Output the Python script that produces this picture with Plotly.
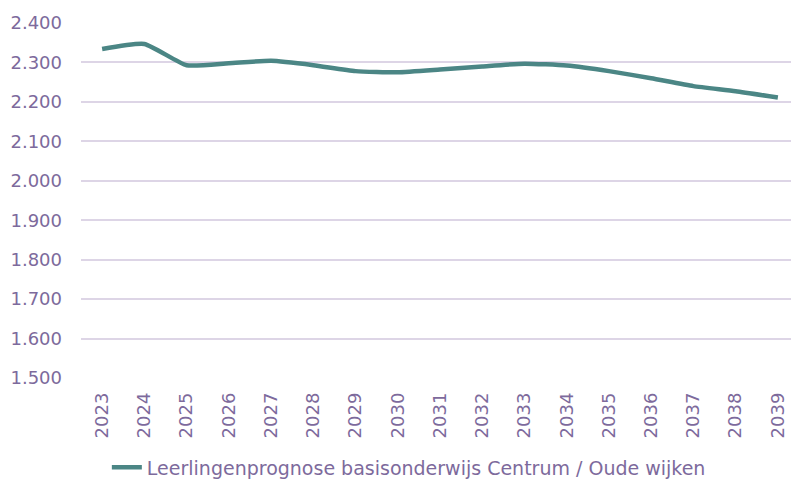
import plotly.graph_objects as go

years = [str(y) for y in range(2023, 2040)]
values = [2334, 2347, 2293, 2298, 2304, 2293, 2278, 2275, 2282, 2290, 2297, 2292, 2278, 2260, 2240, 2227, 2211]
series_name = "Leerlingenprognose basisonderwijs Centrum / Oude wijken"
y_ticks = [1500, 1600, 1700, 1800, 1900, 2000, 2100, 2200, 2300, 2400]
y_labels = ["1.500", "1.600", "1.700", "1.800", "1.900", "2.000", "2.100", "2.200", "2.300", "2.400"]

text_color = "#7d6a9c"
font_family = "'DejaVu Sans', sans-serif"

fig = go.Figure()
fig.add_trace(go.Scatter(
    x=years, y=values, mode="lines", name=series_name,
    line=dict(color="#4b8685", width=4.5, shape="spline", smoothing=0.5),
))

fig.update_layout(
    width=791, height=473,
    margin=dict(l=73, r=0, t=15, b=103, autoexpand=False),
    paper_bgcolor="white", plot_bgcolor="white",
    font=dict(family=font_family, color=text_color, size=17),
    showlegend=True,
    legend=dict(orientation="h", x=0.036, xanchor="left", y=-0.252, yanchor="middle",
                font=dict(size=19, color=text_color), itemwidth=30),
    xaxis=dict(type="category", range=[-0.5, 16.5], tickangle=-90, showgrid=False, showline=False,
               ticks="", automargin=False, ticklabelstandoff=10,
               tickfont=dict(size=18, color=text_color)),
    yaxis=dict(range=[1500, 2400], tickvals=y_ticks, ticktext=y_labels,
               showgrid=True, gridcolor="#ddd5e6", gridwidth=2, zeroline=False,
               showline=False, ticks="", ticklabelstandoff=18, automargin=False,
               tickfont=dict(size=18, color=text_color)),
)

fig.write_html("out.html")
